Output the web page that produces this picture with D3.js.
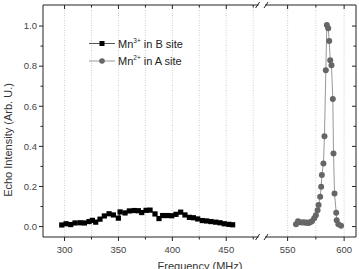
<html>
<head>
<script src="https://d3js.org/d3.v7.min.js"></script>
<style>
body { margin: 0; background: white; }
text { font-family: "Liberation Sans", Arial, sans-serif; }
</style>
</head>
<body>
<svg id="chart" width="359" height="269"></svg>
<script>
// Mn3+ in B site (black squares)
var freqB = [297.4, 301.4, 305.7, 309.7, 314.4, 318.4, 322.7, 325.8, 328.9, 332.9,
  336.9, 341.3, 345.3, 349.9, 351.5, 356.1, 360.1, 364.5, 368.5, 371.6,
  375.6, 379.3, 383.9, 387.6, 391.0, 395.4, 399.4, 403.4, 407.7, 411.7,
  415.8, 419.5, 423.5, 427.8, 431.8, 435.8, 440.2, 444.2, 448.2, 452.5, 455.9];
var echoB = [0.008, 0.014, 0.010, 0.018, 0.019, 0.018, 0.025, 0.031, 0.022, 0.037,
  0.053, 0.064, 0.058, 0.042, 0.073, 0.068, 0.078, 0.080, 0.079, 0.070,
  0.081, 0.082, 0.063, 0.040, 0.055, 0.055, 0.054, 0.061, 0.072, 0.058,
  0.046, 0.044, 0.038, 0.030, 0.028, 0.025, 0.022, 0.019, 0.014, 0.011, 0.009];

// Mn2+ in A site (grey circles)
var freqA = [557.4, 559.2, 560.8, 562.7, 564.3, 565.8, 567.2, 568.5, 570.0, 571.5,
  573.5, 575.0, 576.5, 577.4, 578.8, 579.7, 580.3, 581.7, 582.6, 583.8,
  584.7, 585.9, 586.8, 587.7, 588.8, 590.0, 590.6, 591.5, 593.0, 593.4,
  594.9, 597.3];
var echoA = [0.012, 0.026, 0.022, 0.020, 0.021, 0.019, 0.020, 0.018, 0.022, 0.026,
  0.041, 0.057, 0.082, 0.107, 0.149, 0.198, 0.257, 0.315, 0.451, 0.780,
  1.005, 0.989, 0.925, 0.830, 0.805, 0.636, 0.365, 0.165, 0.069, 0.032,
  0.012, 0.004];

var majorLeft = [300, 350, 400, 450];
var minorLeft = [325, 375, 425, 475];
var majorRight = [550, 600];
var minorRight = [575];
var yMajor = [0, 0.2, 0.4, 0.6, 0.8, 1.0];
var yMinor = [0.1, 0.3, 0.5, 0.7, 0.9];

var legendNames = [["Mn", "3+", " in B site"], ["Mn", "2+", " in A site"]];

var svg = d3.select("#chart");
var pTop = 5, pBottom = 237, pLeft = 43, pRight = 356;
var breakL = 258.6, breakR = 265;

var xl = d3.scaleLinear().domain([280, 480]).range([pLeft, breakL]);
var xr = d3.scaleLinear().domain([530, 610.5]).range([breakR, pRight]);
var y = d3.scaleLinear().domain([-0.052, 1.105]).range([pBottom, pTop]);
function xf(f) { return f < 500 ? xl(f) : xr(f); }

// dotted grid
var gridVals = majorLeft.concat(minorLeft, majorRight, minorRight);
svg.append("g").selectAll("line").data(gridVals).enter().append("line")
  .attr("x1", xf).attr("x2", xf).attr("y1", pTop).attr("y2", pBottom)
  .attr("stroke", "#bbb").attr("stroke-width", 0.7).attr("stroke-dasharray", "1,1.5");

// frame
var frame = svg.append("g").attr("stroke", "#222").attr("stroke-width", 1).attr("fill", "none");
frame.append("line").attr("x1", pLeft).attr("x2", pLeft).attr("y1", pTop).attr("y2", pBottom);
frame.append("line").attr("x1", pRight).attr("x2", pRight).attr("y1", pTop).attr("y2", pBottom);
[pTop, pBottom].forEach(function(yy) {
  frame.append("line").attr("x1", pLeft).attr("x2", breakL).attr("y1", yy).attr("y2", yy);
  frame.append("line").attr("x1", breakR).attr("x2", pRight).attr("y1", yy).attr("y2", yy);
  frame.append("line").attr("x1", breakL - 3).attr("x2", breakL + 1).attr("y1", yy + 3).attr("y2", yy - 3);
  frame.append("line").attr("x1", breakR - 1).attr("x2", breakR + 3).attr("y1", yy + 3).attr("y2", yy - 3);
});

// ticks
var ticks = svg.append("g").attr("stroke", "#222").attr("stroke-width", 1);
majorLeft.concat(majorRight).forEach(function(v) {
  ticks.append("line").attr("x1", xf(v)).attr("x2", xf(v)).attr("y1", pBottom).attr("y2", pBottom + 4);
  ticks.append("line").attr("x1", xf(v)).attr("x2", xf(v)).attr("y1", pTop).attr("y2", pTop + 4);
});
minorLeft.concat(minorRight).forEach(function(v) {
  ticks.append("line").attr("x1", xf(v)).attr("x2", xf(v)).attr("y1", pBottom).attr("y2", pBottom + 2.5);
  ticks.append("line").attr("x1", xf(v)).attr("x2", xf(v)).attr("y1", pTop).attr("y2", pTop + 2.5);
});
yMajor.forEach(function(v) {
  ticks.append("line").attr("x1", pLeft - 4).attr("x2", pLeft).attr("y1", y(v)).attr("y2", y(v));
  ticks.append("line").attr("x1", pRight - 4).attr("x2", pRight).attr("y1", y(v)).attr("y2", y(v));
});
yMinor.forEach(function(v) {
  ticks.append("line").attr("x1", pLeft - 2.5).attr("x2", pLeft).attr("y1", y(v)).attr("y2", y(v));
  ticks.append("line").attr("x1", pRight - 2.5).attr("x2", pRight).attr("y1", y(v)).attr("y2", y(v));
});

// tick labels
svg.append("g").selectAll("text").data(majorLeft.concat(majorRight)).enter().append("text")
  .attr("x", xf).attr("y", 253).attr("text-anchor", "middle")
  .attr("font-size", 9.5).attr("fill", "#444").text(function(d) { return d; });
svg.append("g").selectAll("text").data(yMajor).enter().append("text")
  .attr("x", 37).attr("y", function(d) { return y(d) + 3.3; }).attr("text-anchor", "end")
  .attr("font-size", 9.5).attr("fill", "#444").text(function(d) { return d3.format(".1f")(d); });

// axis titles
svg.append("text").attr("x", 200).attr("y", 270).attr("text-anchor", "middle")
  .attr("font-size", 11).attr("fill", "#333").text("Frequency (MHz)");
svg.append("text").attr("transform", "translate(12,140) rotate(-90)").attr("text-anchor", "middle")
  .attr("font-size", 11).attr("fill", "#333").text("Echo Intensity (Arb. U.)");

// series B
var ptsB = freqB.map(function(f, i) { return [xf(f), y(echoB[i])]; });
svg.append("path").attr("d", d3.line()(ptsB)).attr("fill", "none")
  .attr("stroke", "#000").attr("stroke-width", 1);
svg.append("g").selectAll("rect").data(ptsB).enter().append("rect")
  .attr("x", function(d) { return d[0] - 2.6; }).attr("y", function(d) { return d[1] - 2.6; })
  .attr("width", 5.2).attr("height", 5.2).attr("fill", "#000");

// series A
var ptsA = freqA.map(function(f, i) { return [xf(f), y(echoA[i])]; });
svg.append("path").attr("d", d3.line()(ptsA)).attr("fill", "none")
  .attr("stroke", "#999").attr("stroke-width", 1);
svg.append("g").selectAll("circle").data(ptsA).enter().append("circle")
  .attr("cx", function(d) { return d[0]; }).attr("cy", function(d) { return d[1]; })
  .attr("r", 3).attr("fill", "#666");

// legend
var leg = svg.append("g");
legendNames.forEach(function(n, i) {
  var ly = 43.5 + i * 17.5;
  leg.append("line").attr("x1", 89).attr("x2", 115).attr("y1", ly).attr("y2", ly)
    .attr("stroke", i == 0 ? "#555" : "#999").attr("stroke-width", 1);
  if (i == 0) {
    leg.append("rect").attr("x", 99.5).attr("y", ly - 2.5).attr("width", 5).attr("height", 5).attr("fill", "#000");
  } else {
    leg.append("circle").attr("cx", 102).attr("cy", ly).attr("r", 2.8).attr("fill", "#666");
  }
  var t = leg.append("text").attr("x", 118).attr("y", ly + 4).attr("font-size", 11).attr("fill", "#222");
  t.append("tspan").text(n[0]);
  t.append("tspan").attr("dy", -5).attr("font-size", 6.5).text(n[1]);
  t.append("tspan").attr("dy", 5).text(n[2]);
});
</script>
</body>
</html>
